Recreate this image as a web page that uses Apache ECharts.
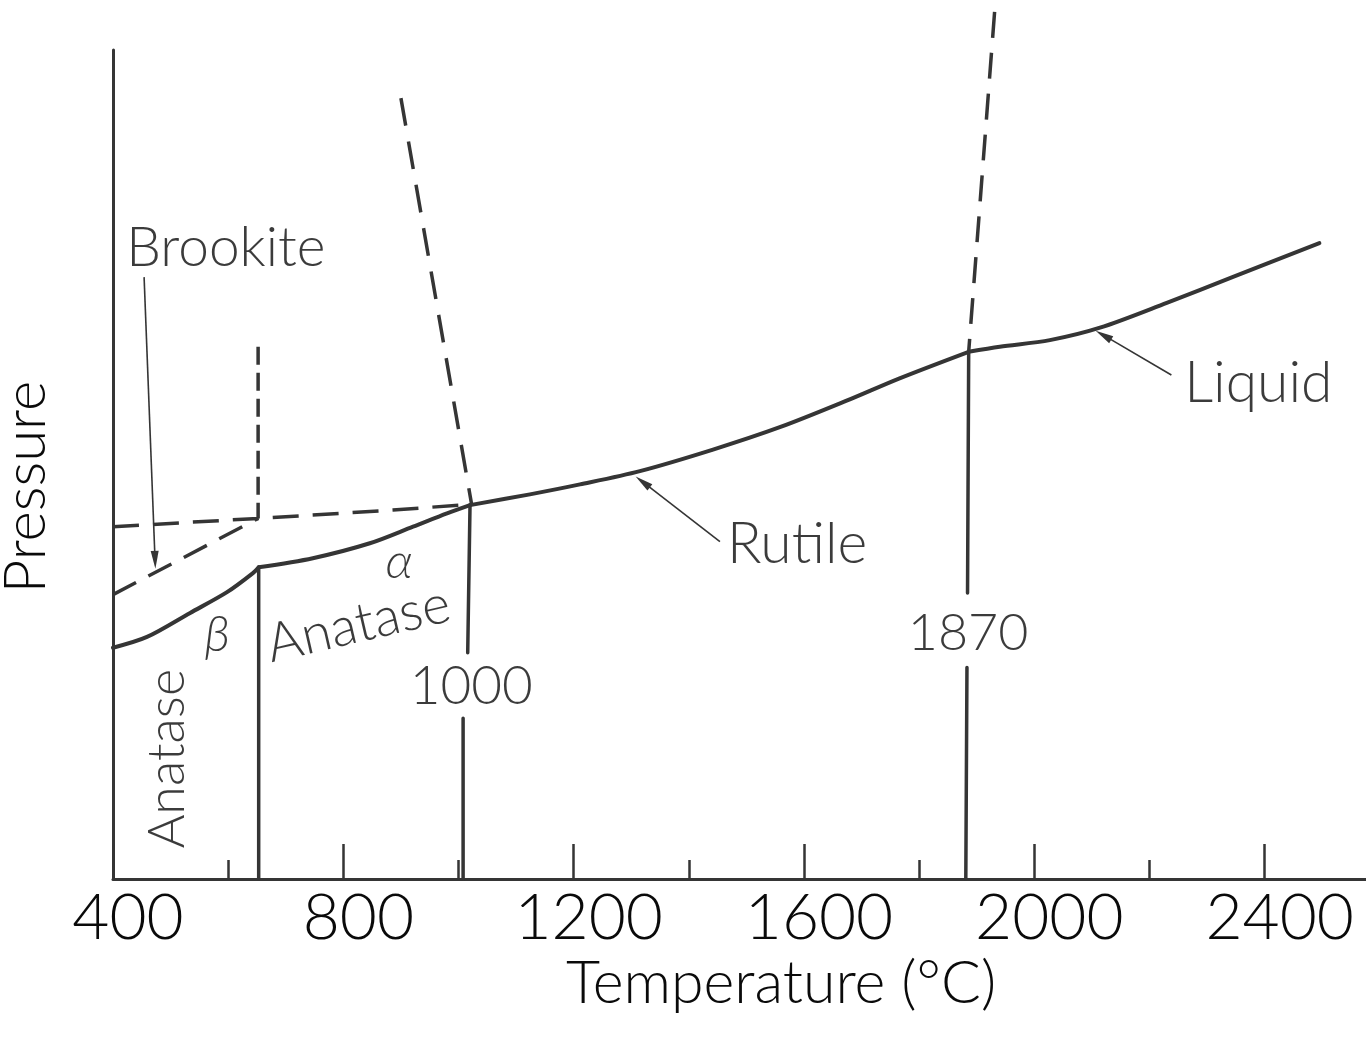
<!DOCTYPE html>
<html><head><meta charset="utf-8">
<script src="https://cdn.jsdelivr.net/npm/echarts@6/dist/echarts.min.js"></script>
<style>html,body{margin:0;padding:0;background:#fff;overflow:hidden;width:1366px;height:1037px}#c{width:1495px;height:1037px}</style>
</head><body><div id="c"></div>
<script>
// ---- data (temperature °C, relative pressure 0-100) ----
const betaAnataseBoundary = [[400,27.9],[459,29.2],[534,32.1],[598,34.6],[643,36.9],[653,37.6]];
const alphaAnataseBoundary = [[653,37.6],[747,38.7],[846,40.5],[921,42.5],[980,44.1],[1020,45.1]];
const rutileBoundary = [[1020,45.1],[1124,46.4],[1211,47.6],[1315,49.2],[1442,51.8],[1558,54.5],[1674,57.7],[1766,60.4],[1886,63.6]];
const liquidBoundary = [[1886,63.6],[1940,64.2],[2027,65.0],[2114,66.5],[2230,69.5],[2344,72.6],[2495,76.7]];
const betaAlphaLine = [[653,37.6],[653,0]];
const anataseRutileLine = [[1020,45.1],[1016,27.3],[1012,'-'],[1008,19.4],[1008,0]];
const meltLine = [[1886,63.6],[1884,34.5],[1883,'-'],[1883,25.5],[1881,0]];
const brookiteUpperDashed = [[400,42.5],[652,43.5],[886,44.5],[1020,45.2]];
const brookiteLowerDashed = [[400,34.3],[652,43.5]];
const brookiteVerticalDashed = [[652,64.2],[652,43.5]];
const anataseRutileDashed = [[900,94.2],[1023,45.1]];
const meltDashed = [[1931,104.6],[1886,63.6]];
const tempTicks = [400,800,1200,1600,2000,2400];
// annotation arrows: [tail, tip]
const brookiteArrow = [[454,72.6],[473,38.5]];
const rutileArrow = [[1454,40.7],[1320,47.9]];
const liquidArrow = [[2238,60.8],[2120,65.6]];
// region label text and anchor
const labelTexts = ['Brookite','Liquid','Rutile','1000','1870','α','β','Anatase','Anatase'];
const labelAnchors = [[596,76.1],[2389,59.7],[1588,40.3],[1022,23.2],[1885,29.7],[897,38.3],[581,29.5],[826,30.7],[494,14.5]];

// ---- styles ----
const INK = '#353535';
const TXT = '#0a0a0a';
const FONT = 'Lato, "Open Sans", "Liberation Sans", sans-serif';
const labelStyles = [
  {fontSize:55},{fontSize:57},{fontSize:57},{fontSize:53},{fontSize:52},
  {fontSize:50, fontStyle:'italic'},{fontSize:50, fontStyle:'italic'},
  {fontSize:54, rotate:13},{fontSize:52, rotate:90}
];

function solid(data, w, sm){
  return {type:'line', data, symbol:'none', clip:false, silent:true, animation:false, smooth:sm||false,
    lineStyle:{color:INK, width:w||4, cap:'round', join:'round'}};
}
function dashed(data, dash){
  return {type:'line', data, symbol:'none', clip:false, silent:true, animation:false,
    lineStyle:{color:INK, width:3.5, type:dash||[26,14], cap:'butt'}};
}
function arrow(pair, curv){
  return [{coord:pair[0], lineStyle:{curveness:curv}}, {coord:pair[1]}];
}

const chart = echarts.init(document.getElementById('c'), null, {renderer:'canvas'});
chart.setOption({
  backgroundColor:'#ffffff',
  animation:false,
  grid:{left:113, right:0, top:50, bottom:158, containLabel:false, outerBoundsMode:'none'},
  xAxis:{
    type:'value', min:400, max:2800, interval:400,
    axisLine:{show:true, lineStyle:{color:INK, width:3}},
    axisTick:{show:true, inside:true, length:35, lineStyle:{color:INK, width:2.5}},
    minorTick:{show:true, splitNumber:2, length:19, lineStyle:{color:INK, width:2.5}},
    splitLine:{show:false}, minorSplitLine:{show:false},
    axisLabel:{show:true, color:TXT, fontSize:64, fontFamily:FONT, fontWeight:300, margin:7,
      padding:[0,0,0,30], showMaxLabel:false,
      formatter:v => tempTicks.indexOf(v) >= 0 ? String(v) : ''},
    name:'Temperature (°C)', nameLocation:'middle', nameGap:70,
    nameTextStyle:{color:TXT, fontSize:59, fontFamily:FONT, fontWeight:300, padding:[0,46,0,0]}
  },
  yAxis:{
    type:'value', min:0, max:100,
    axisLine:{show:true, lineStyle:{color:INK, width:3}},
    axisTick:{show:false}, axisLabel:{show:false}, splitLine:{show:false},
    name:'Pressure', nameLocation:'middle', nameRotate:90, nameGap:58,
    nameTextStyle:{color:TXT, fontSize:58, fontFamily:FONT, fontWeight:300, padding:[0,45,0,0]}
  },
  series:[
    solid(betaAnataseBoundary, 4, 0.3),
    solid(alphaAnataseBoundary, 4, 0.3),
    solid(rutileBoundary, 4, 0.3),
    solid(liquidBoundary, 4, 0.3),
    solid(betaAlphaLine, 3.5),
    solid(anataseRutileLine, 3.5),
    solid(meltLine, 3.5),
    dashed(brookiteUpperDashed),
    dashed(brookiteLowerDashed),
    dashed(brookiteVerticalDashed, [18,8]),
    dashed(anataseRutileDashed, [28,16]),
    dashed(meltDashed, [26,15]),
    {type:'line', data:[], silent:true, animation:false,
      markLine:{silent:true, animation:false, symbol:['none','triangle'], symbolSize:[8,18],
        label:{show:false},
        lineStyle:{color:INK, width:1.6, type:'solid'},
        itemStyle:{color:INK},
        data:[arrow(brookiteArrow,-0.06), arrow(rutileArrow,0.2), arrow(liquidArrow,0.1)]}},
    {type:'scatter', silent:true, animation:false, symbolSize:1, itemStyle:{color:'rgba(0,0,0,0)'},
      data: labelTexts.map((t,i)=>({name:t, value:labelAnchors[i],
        label:Object.assign({show:true, position:'inside', formatter:'{b}', color:TXT,
          fontFamily:FONT, fontWeight:300, align:'center', verticalAlign:'middle'}, labelStyles[i])}))}
  ]
});
</script></body></html>
